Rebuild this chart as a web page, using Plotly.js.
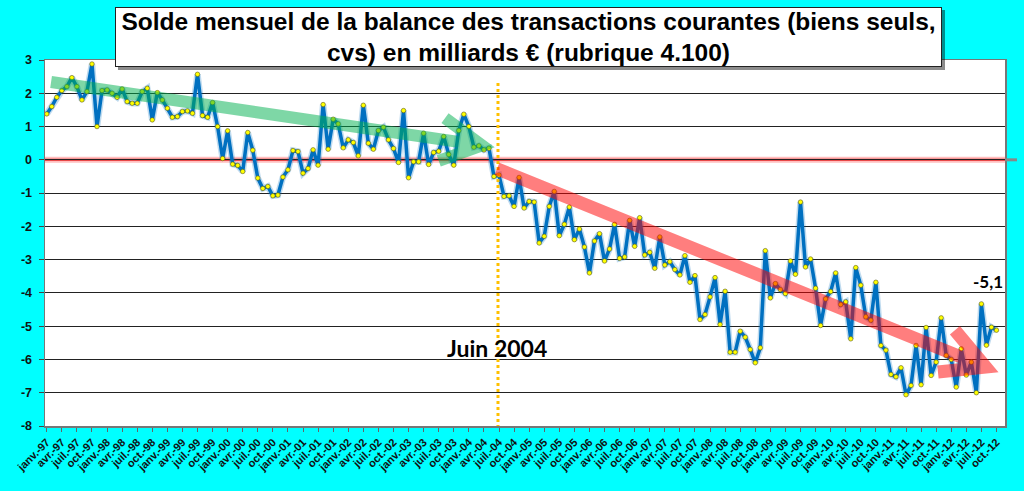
<!DOCTYPE html>
<html>
<head>
<meta charset="utf-8">
<script src="https://cdn.plot.ly/plotly-3.0.1.min.js"></script>
<style>
  html, body { margin: 0; padding: 0; background: #00ffff; }
  #chart { width: 1024px; height: 491px; }
</style>
</head>
<body>
<div id="chart"></div>
<script>
// solde mensuel, janv. 1997 -> oct. 2012 (milliards d'euros)
const solde = [
  1.38, 1.60, 1.88, 2.08, 2.20, 2.47, 2.20, 1.80, 2.05, 2.88, 1.00, 2.08,
  2.10, 2.00, 1.88, 2.13, 1.75, 1.70, 1.70, 2.05, 2.15, 1.20, 2.02, 1.80,
  1.55, 1.28, 1.30, 1.45, 1.47, 1.40, 2.57, 1.33, 1.28, 1.72, 1.00, 0.04,
  0.87, -0.13, -0.17, -0.35, 0.82, 0.29, -0.55, -0.86, -0.80, -1.08, -1.06, -0.52,
  -0.30, 0.28, 0.25, -0.40, -0.26, 0.30, -0.16, 1.66, 0.32, 1.22, 1.08, 0.36,
  0.60, 0.52, 0.12, 1.64, 0.50, 0.32, 0.88, 0.98, 0.60, 0.34, -0.08, 1.48,
  -0.54, -0.06, -0.06, 0.80, -0.14, 0.22, 0.26, 0.70, 0.16, -0.16, 0.88, 1.37,
  1.00, 0.38, 0.42, 0.30, 0.35, -0.50, -0.46, -1.10, -1.08, -1.40, -0.53, -1.45,
  -1.25, -1.27, -2.50, -2.30, -1.40, -0.95, -2.28, -1.94, -1.42, -2.40, -2.08, -2.62,
  -3.40, -2.44, -2.22, -3.04, -2.68, -1.94, -2.96, -2.92, -1.82, -2.60, -1.74, -2.86,
  -2.78, -3.26, -2.32, -3.16, -3.06, -3.30, -3.46, -2.88, -3.68, -3.48, -4.80, -4.65,
  -4.12, -3.54, -4.95, -3.95, -5.78, -5.78, -5.15, -5.33, -5.70, -6.10, -5.65, -2.73,
  -4.15, -3.72, -3.90, -4.02, -3.04, -3.44, -1.27, -3.22, -2.98, -3.86, -4.98, -4.18,
  -3.96, -3.40, -4.35, -4.27, -5.38, -3.24, -3.77, -4.72, -4.82, -3.68, -5.58, -5.72,
  -6.45, -6.52, -6.25, -7.06, -6.78, -5.58, -6.76, -5.04, -6.48, -6.08, -4.75, -5.88,
  -6.00, -6.83, -5.68, -6.47, -6.08, -7.00, -4.33, -5.57, -5.03, -5.12
];

const annees = ['97', '98', '99', '00', '01', '02', '03', '04',
                '05', '06', '07', '08', '09', '10', '11', '12'];
const trimestres = ['janv.', 'avr.', 'juil.', 'oct.'];
const yTicks = [-8, -7, -6, -5, -4, -3, -2, -1, 0, 1, 2, 3];
const yLabels = ['-8', '-7', '-6', '-5', '-4', '-3', '-2', '-1', '0', '1', '2', '3'];

const mois = solde.map((v, i) => i);
const tickText = [];
const tickVals = [];
annees.forEach((a, k) => {
  trimestres.forEach((t, j) => {
    tickText.push(t + '-' + a);
    tickVals.push(k * 12 + j * 3);
  });
});

const X_MIN = -0.35, X_MAX = 190.7;
const Y_MIN = -8, Y_MAX = 3;
const M = { l: 45, r: 19, t: 60, b: 65 };
const SX = (1024 - M.l - M.r) / (X_MAX - X_MIN);
const SY = (491 - M.t - M.b) / (Y_MAX - Y_MIN);

// open arrow drawn in pixel space, returned in data units
function arrowPath(x0, y0, x1, y1, back, headLen, headAng) {
  let p0 = [x0 * SX, -y0 * SY], p1 = [x1 * SX, -y1 * SY];
  const dx = p1[0] - p0[0], dy = p1[1] - p0[1];
  const L = Math.hypot(dx, dy);
  const ux = dx / L, uy = dy / L;
  p1 = [p1[0] - ux * back, p1[1] - uy * back];
  const arm = a => {
    const bx = -ux, by = -uy;
    const rx = bx * Math.cos(a) - by * Math.sin(a);
    const ry = bx * Math.sin(a) + by * Math.cos(a);
    return [p1[0] + rx * headLen, p1[1] + ry * headLen];
  };
  const d = p => (p[0] / SX).toFixed(3) + ',' + (-p[1] / SY).toFixed(3);
  return 'M' + d(p0) + ' L' + d(p1) +
         ' M' + d(arm(headAng)) + ' L' + d(p1) + ' L' + d(arm(-headAng));
}

const glow = {
  x: mois, y: solde, type: 'scatter', mode: 'lines',
  line: { color: 'rgba(0,112,192,0.25)', width: 6.5 },
  hoverinfo: 'none', showlegend: false
};

const serie = {
  x: mois, y: solde, type: 'scatter', mode: 'lines+markers',
  line: { color: '#0070c0', width: 3.5 },
  marker: { color: '#ffff00', size: 4.5, line: { color: '#5a5a20', width: 0.6 } },
  hoverinfo: 'none', showlegend: false
};

const ang = 28 * Math.PI / 180;

const layout = {
  width: 1024, height: 491,
  margin: M,
  paper_bgcolor: '#00ffff',
  plot_bgcolor: '#ffffff',
  font: { family: 'Liberation Sans, Arial, sans-serif', color: '#111' },
  xaxis: {
    range: [X_MIN, X_MAX],
    tickvals: tickVals, ticktext: tickText,
    tickangle: -45,
    tickfont: { size: 11, weight: 'bold', color: '#111' },
    ticks: 'outside', ticklen: 4, tickcolor: '#666',
    showgrid: false, zeroline: false,
    showline: true, linecolor: '#777', linewidth: 1.5, mirror: true
  },
  yaxis: {
    range: [Y_MIN, Y_MAX],
    tickvals: yTicks, ticktext: yLabels,
    tickfont: { size: 12.5, weight: 'bold', color: '#111' },
    ticks: 'outside', ticklen: 5, tickcolor: '#444',
    ticklabelstandoff: 4,
    showgrid: true, gridcolor: '#222', gridwidth: 1,
    zeroline: false,
    showline: true, linecolor: '#777', linewidth: 1.5, mirror: true
  },
  shapes: [
    // ligne du zéro
    { type: 'line', xref: 'paper', yref: 'y', x0: 0, x1: 1, y0: 0, y1: 0,
      line: { color: 'rgba(255,0,0,0.25)', width: 6 }, layer: 'below' },
    { type: 'line', xref: 'paper', yref: 'y', x0: 0, x1: 1, y0: 0, y1: 0,
      line: { color: '#e02020', width: 2 }, layer: 'below' },
    { type: 'line', xref: 'paper', yref: 'y', x0: 1, x1: 1.0125, y0: 0, y1: 0,
      line: { color: '#888888', width: 3 }, layer: 'above' },
    // juin 2004
    { type: 'line', xref: 'x', yref: 'y', x0: 89.8, x1: 89.8, y0: -8.06, y1: 2.34,
      line: { color: '#ffc000', width: 3, dash: 'dot' }, layer: 'above' },
    // tendances
    { type: 'path', xref: 'x', yref: 'y', layer: 'above', opacity: 0.5,
      path: arrowPath(0.86, 2.34, 88.6, 0.39, 10, 46, ang),
      line: { color: '#00b050', width: 12 } },
    { type: 'path', xref: 'x', yref: 'y', layer: 'above', opacity: 0.5,
      path: arrowPath(89.6, -0.27, 188.7, -6.34, 10, 48, ang),
      line: { color: '#ff0000', width: 13 } },
    // ombre du titre
    { type: 'rect', xref: 'paper', yref: 'paper',
      x0: (118 - M.l) / 960, x1: (945 - M.l) / 960,
      y0: (426 - 70) / 366, y1: (426 - 10) / 366,
      fillcolor: 'rgba(0,0,0,0.45)', line: { width: 0 }, layer: 'above' }
  ],
  annotations: [
    { xref: 'paper', yref: 'paper',
      x: (528.5 - M.l) / 960, y: (426 - 37) / 366,
      xanchor: 'center', yanchor: 'middle',
      width: 825, height: 58, borderpad: 0,
      bgcolor: '#ffffff', bordercolor: '#222', borderwidth: 1,
      showarrow: false, align: 'center',
      text: '<b>Solde mensuel de la balance des transactions courantes (biens seuls,<br>cvs) en milliards € (rubrique 4.100)</b>',
      font: { size: 24.5, color: '#000', family: 'Liberation Sans, Arial, sans-serif' } },
    { xref: 'x', yref: 'y', x: 89.6, y: -5.65, showarrow: false,
      text: '<b>Juin 2004</b>',
      font: { size: 23, color: '#000', family: 'Lato, Liberation Sans, sans-serif' } },
    { xref: 'x', yref: 'y', x: 187.3, y: -3.67, showarrow: false,
      text: '<b>-5,1</b>',
      font: { size: 17, color: '#000', family: 'Lato, Liberation Sans, sans-serif' } }
  ]
};

Plotly.newPlot('chart', [glow, serie], layout, { staticPlot: true });
</script>
</body>
</html>
